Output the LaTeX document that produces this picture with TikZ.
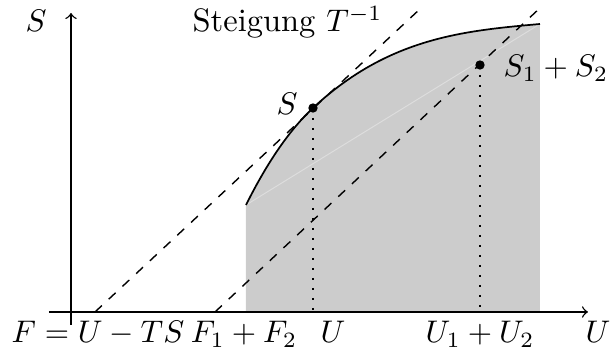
\documentclass[tikz,border=0pt]{standalone}
\begin{document}
\begin{tikzpicture}[x=0.32pt,y=-0.32pt,
  axis/.style={line width=0.45pt,-to},
  tangentline/.style={dashed,line width=0.45pt},
  dropline/.style={dash pattern=on 0.5pt off 2.7pt,line width=0.55pt},
  dotmark/.style={circle,fill=black,inner sep=0pt,minimum size=3pt},
  lbl/.style={inner sep=0pt,anchor=base,font=\fontsize{10.4pt}{12pt}\selectfont}]
\useasboundingbox (0,0) rectangle (610,350);
% key points
\coordinate (A) at (246,205);
\coordinate (B) at (540,24);
\coordinate (S) at (313,108);
\coordinate (M) at (480,65);
\coordinate (A0) at (246,312);
\coordinate (B0) at (540,312);
\coordinate (Sx) at (313,312);
\coordinate (Mx) at (480,312);
\coordinate (T1a) at (95,312);
\coordinate (T1b) at (420,9);
\coordinate (T2a) at (215,312);
\coordinate (T2b) at (540,8);
\coordinate (Xa) at (49,312);
\coordinate (Xb) at (588,312);
\coordinate (Ya) at (71,325);
\coordinate (Yb) at (71,13);
% shaded region
\fill[black!20] (A0) -- (A) .. controls (268.3,160.3) and (290.7,128.8) .. (S)
  .. controls (388.7,37.4) and (464.3,30.8) .. (B) -- (B0) -- cycle;
\draw[white,opacity=0.35,line width=0.3pt] (A) -- (B);
% curve
\draw[line width=0.55pt] (A) .. controls (268.3,160.3) and (290.7,128.8) .. (S)
  .. controls (388.7,37.4) and (464.3,30.8) .. (B);
% tangent lines
\draw[tangentline] (T1a) -- (T1b);
\draw[tangentline] (T2a) -- (T2b);
% drop lines
\draw[dropline] (S) -- (Sx);
\draw[dropline] (M) -- (Mx);
% axes
\draw[axis] (Xa) -- (Xb);
\draw[axis] (Ya) -- (Yb);
% points
\node[dotmark] (pS) at (S) {};
\node[dotmark] (pM) at (M) {};
% labels
\node[lbl] (lSaxis) at (36,32) {$S$};
\node[lbl,anchor=base west] (lSteig) at (192,32) {Steigung $T^{-1}$};
\node[lbl] (lS) at (287,115) {$S$};
\node[lbl,anchor=base west] (lS12) at (503,77) {$S_1+S_2$};
\node[lbl] (lF) at (98,343) {$F=U-TS$};
\node[lbl] (lF12) at (244,343) {$F_1+F_2$};
\node[lbl] (lU) at (333,343) {$U$};
\node[lbl] (lU12) at (480,343) {$U_1+U_2$};
\node[lbl] (lUaxis) at (598,343) {$U$};
\end{tikzpicture}
\end{document}
